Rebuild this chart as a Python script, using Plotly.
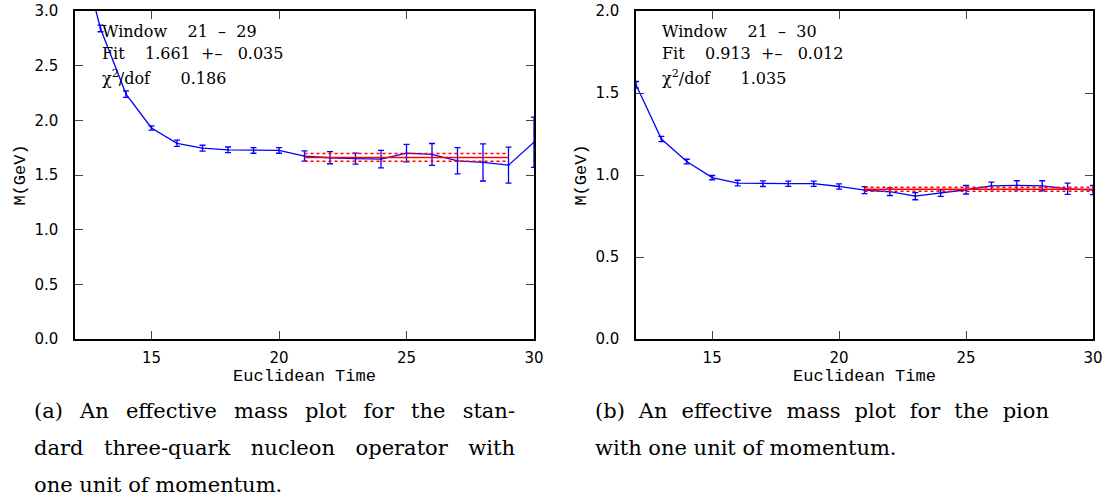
import plotly.graph_objects as go

# ---------------- data ----------------
t_nucleon = [12, 13, 14, 15, 16, 17, 18, 19, 20, 21, 22, 23, 24, 25, 26, 27, 28, 29, 30]
m_nucleon = [3.74, 2.84, 2.24, 1.93, 1.79, 1.745, 1.73, 1.725, 1.725, 1.673, 1.658, 1.65,
             1.645, 1.70, 1.688, 1.63, 1.615, 1.59, 1.80]
e_nucleon = [0.03, 0.03, 0.03, 0.02, 0.029, 0.027, 0.026, 0.026, 0.026, 0.047, 0.055, 0.05,
             0.08, 0.08, 0.10, 0.12, 0.17, 0.165, 0.23]
fit_nucleon = 1.661
fit_err_nucleon = 0.035
win_nucleon = [21, 29]

t_pion = [12, 13, 14, 15, 16, 17, 18, 19, 20, 21, 22, 23, 24, 25, 26, 27, 28, 29, 30]
m_pion = [1.55, 1.219, 1.082, 0.984, 0.951, 0.947, 0.947, 0.947, 0.93, 0.908, 0.898, 0.871,
          0.89, 0.91, 0.934, 0.937, 0.934, 0.916, 0.908]
e_pion = [0.02, 0.016, 0.014, 0.013, 0.017, 0.017, 0.016, 0.016, 0.016, 0.021, 0.023, 0.022,
          0.02, 0.026, 0.023, 0.028, 0.031, 0.034, 0.028]
fit_pion = 0.913
fit_err_pion = 0.012
win_pion = [21, 30]

NB = "\u00a0"
info_nucleon = ["Window" + NB * 4 + "21" + NB * 2 + "\u2013" + NB * 2 + "29",
                "Fit" + NB * 4 + "1.661" + NB * 2 + "+\u2013" + NB * 3 + "0.035",
                "\u03c7<sup>2</sup>/dof" + NB * 6 + "0.186"]
info_pion = ["Window" + NB * 4 + "21" + NB * 2 + "\u2013" + NB * 2 + "30",
             "Fit" + NB * 4 + "0.913" + NB * 2 + "+\u2013" + NB * 3 + "0.012",
             "\u03c7<sup>2</sup>/dof" + NB * 6 + "1.035"]

caption_a = ["(a) An effective mass plot for the stan-",
             "dard three-quark nucleon operator with",
             "one unit of momentum."]
caption_b = ["(b) An effective mass plot for the pion",
             "with one unit of momentum."]

x_ticks = [15, 20, 25, 30]
y_ticks_a = [0.0, 0.5, 1.0, 1.5, 2.0, 2.5, 3.0]
y_ticks_b = [0.0, 0.5, 1.0, 1.5, 2.0]

# ---------------- figure ----------------
W, H = 1114, 500
fig = go.Figure()

BLUE = "#0000ff"
RED = "#ff0000"


def add_panel(t, m, e, fit, ferr, win, xa, ya):
    fig.add_trace(go.Scatter(
        x=t, y=m, mode="lines+markers", xaxis=xa, yaxis=ya,
        line=dict(color=BLUE, width=1.3),
        marker=dict(size=2, color=BLUE),
        error_y=dict(type="data", array=e, visible=True, color=BLUE, thickness=1.3, width=3),
        showlegend=False, hoverinfo="skip"))
    fig.add_trace(go.Scatter(
        x=win, y=[fit, fit], mode="lines", xaxis=xa, yaxis=ya,
        line=dict(color=RED, width=1.5), showlegend=False, hoverinfo="skip"))
    for v in (fit - ferr, fit + ferr):
        fig.add_trace(go.Scatter(
            x=win, y=[v, v], mode="lines", xaxis=xa, yaxis=ya,
            line=dict(color=RED, width=1.5, dash="dot"), showlegend=False, hoverinfo="skip"))


add_panel(t_nucleon, m_nucleon, e_nucleon, fit_nucleon, fit_err_nucleon, win_nucleon, "x", "y")
add_panel(t_pion, m_pion, e_pion, fit_pion, fit_err_pion, win_pion, "x2", "y2")

ydom = [1 - 339 / H, 1 - 11 / H]
dom_a = [75 / W, 534 / W]
dom_b = [636 / W, 1093 / W]

tick_font = dict(family="DejaVu Sans", size=15, color="black")
lab_font = dict(family="Liberation Mono", size=17, color="black")

common_x = dict(range=[12, 30], tickvals=x_ticks, ticks="inside", ticklen=8, tickwidth=1.3,
                showline=True, linecolor="black", linewidth=1.5, mirror="ticks",
                showgrid=False, zeroline=False, tickfont=tick_font, automargin=False,
                ticklabelstandoff=4,
                title=dict(text="Euclidean Time", font=lab_font, standoff=0))
common_y = dict(ticks="inside", ticklen=8, tickwidth=1.3,
                showline=True, linecolor="black", linewidth=1.5, mirror="ticks",
                showgrid=False, zeroline=False, tickfont=tick_font, automargin=False,
                tickformat=".1f", ticklabelstandoff=12,
                title=dict(text="M(GeV)", font=lab_font, standoff=4))

fig.update_layout(
    width=W, height=H,
    margin=dict(l=0, r=0, t=0, b=0),
    paper_bgcolor="white", plot_bgcolor="white",
    xaxis=dict(domain=dom_a, anchor="y", **common_x),
    yaxis=dict(domain=ydom, anchor="x", range=[0, 3], tickvals=y_ticks_a, **common_y),
    xaxis2=dict(domain=dom_b, anchor="y2", **common_x),
    yaxis2=dict(domain=ydom, anchor="x2", range=[0, 2], tickvals=y_ticks_b, **common_y),
)

ann = []
info_font = dict(family="DejaVu Serif", size=16, color="black")
for lines, x0 in ((info_nucleon, 100), (info_pion, 660)):
    for i, s in enumerate(lines):
        ann.append(dict(text=s, x=x0 / W, y=1 - (31 + 23 * i) / H, xref="paper", yref="paper",
                        xanchor="left", yanchor="middle", showarrow=False, font=info_font))

cap_font = dict(family="DejaVu Serif", size=21, color="black")
for lines, x0 in ((caption_a, 32), (caption_b, 593)):
    for i, s in enumerate(lines):
        ann.append(dict(text=s, x=x0 / W, y=1 - (411 + 37 * i) / H, xref="paper", yref="paper",
                        xanchor="left", yanchor="middle", showarrow=False, font=cap_font))

fig.update_layout(annotations=ann)

# justify the full caption lines (like the typeset original) by widening word gaps
justify_js = """
document.body.style.margin='0';
var targets = {};
targets[%s] = 481;
targets[%s] = 481;
targets[%s] = 454;
document.querySelectorAll('text.annotation-text').forEach(function(t){
  var w = targets[t.textContent];
  if(!w) return;
  var b0 = t.getBBox();
  var n = (t.textContent.match(/ /g) || []).length;
  if(!n) return;
  t.style.wordSpacing = ((w - b0.width) / n) + 'px';
  var b1 = t.getBBox();
  var dx = b0.x - b1.x;
  var tr = t.getAttribute('transform') || '';
  t.setAttribute('transform', tr + ' translate(' + dx + ',0)');
});
""" % (repr(caption_a[0]), repr(caption_a[1]), repr(caption_b[0]))

fig.write_html("out.html", post_script=justify_js, config={"displayModeBar": False})
